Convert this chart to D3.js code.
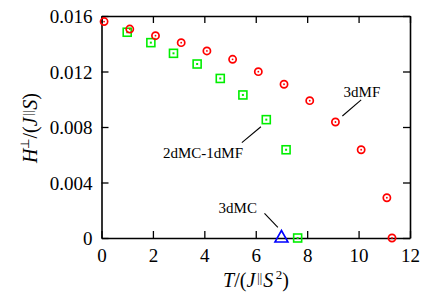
<!DOCTYPE html>
<html>
<head>
<meta charset="utf-8">
<script src="https://cdn.jsdelivr.net/npm/d3@7"></script>
<style>
  body { margin: 0; background: #fff; }
  svg text, svg tspan { font-family: "Liberation Serif", "Times New Roman", serif !important; }
</style>
</head>
<body>
<div id="chart"></div>
<script>
// 3dMF (red circles)
const mfT = [0.1, 1.1, 2.1, 3.1, 4.1, 5.1, 6.1, 7.1, 8.1, 9.1, 10.1, 11.1, 11.3];
const mfH = [0.0156, 0.01506, 0.01458, 0.01408, 0.01348, 0.01288, 0.01199, 0.01108, 0.0099, 0.00836, 0.00636, 0.0029, 0];

// 2dMC-1dMF (green squares)
const mcT = [1.0, 1.92, 2.8, 3.72, 4.62, 5.5, 6.41, 7.18, 7.63];
const mcH = [0.01483, 0.01408, 0.01331, 0.01254, 0.0115, 0.01031, 0.00853, 0.00636, 0];

// 3dMC (blue triangle)
const dmcT = [7.0];
const dmcH = [0];

const xTicks = [0, 2, 4, 6, 8, 10, 12];
const yTicks = [0, 0.004, 0.008, 0.012, 0.016];

const width = 436, height = 307;
const margin = { top: 16, right: 26, bottom: 69, left: 101.5 };
const serif = "Liberation Serif";

const svg = d3.select("#chart").append("svg")
  .attr("width", width)
  .attr("height", height)
  .attr("font-family", serif);

const x = d3.scaleLinear().domain([0, 12]).range([margin.left, width - margin.right]);
const y = d3.scaleLinear().domain([0, 0.016]).range([height - margin.bottom, margin.top]);

const fmtY = d => d === 0 ? "0" : d.toFixed(3);

// axes, ticks inward on all four sides
const axB = svg.append("g")
  .attr("transform", `translate(0,${y(0)})`)
  .call(d3.axisBottom(x).tickValues(xTicks).tickSizeInner(-7).tickSizeOuter(0).tickPadding(6).tickFormat(d3.format("d")));
const axL = svg.append("g")
  .attr("transform", `translate(${x(0)},0)`)
  .call(d3.axisLeft(y).tickValues(yTicks).tickSizeInner(-7).tickSizeOuter(0).tickPadding(9).tickFormat(fmtY));
const axT = svg.append("g")
  .attr("transform", `translate(0,${y(0.016)})`)
  .call(d3.axisTop(x).tickValues(xTicks).tickSizeInner(-7).tickSizeOuter(0).tickFormat(""));
const axR = svg.append("g")
  .attr("transform", `translate(${x(12)},0)`)
  .call(d3.axisRight(y).tickValues(yTicks).tickSizeInner(-7).tickSizeOuter(0).tickFormat(""));

[axB, axL, axT, axR].forEach(a => {
  a.attr("font-family", serif).attr("font-size", 19);
  a.selectAll("path").attr("stroke", "#000").attr("stroke-width", 1.6);
  a.selectAll("line").attr("stroke", "#000").attr("stroke-width", 1.3);
  a.selectAll("text")
    .attr("font-family", serif)
    .attr("font-size", 19)
    .attr("fill", "#000");
});
axB.selectAll("text").attr("dy", "0.95em");
axL.selectAll("text").attr("dy", "0.36em");

// green squares
const mc = mcT.map((t, i) => ({ t: t, h: mcH[i] }));
const sq = svg.append("g").selectAll("g").data(mc).enter().append("g")
  .attr("transform", d => `translate(${x(d.t)},${y(d.h)})`);
sq.append("rect")
  .attr("x", -4).attr("y", -4).attr("width", 8).attr("height", 8)
  .attr("fill", "none").attr("stroke", "#00ee00").attr("stroke-width", 1.6);
sq.append("rect")
  .attr("x", -1).attr("y", -1).attr("width", 2).attr("height", 2)
  .attr("fill", "#00ee00");

// red circles
const mf = mfT.map((t, i) => ({ t: t, h: mfH[i] }));
const ci = svg.append("g").selectAll("g").data(mf).enter().append("g")
  .attr("transform", d => `translate(${x(d.t)},${y(d.h)})`);
ci.append("circle")
  .attr("r", 3.6)
  .attr("fill", "none").attr("stroke", "#ff0000").attr("stroke-width", 1.7);
ci.append("circle")
  .attr("r", 0.9)
  .attr("fill", "#ff0000");

// blue triangle
const dmc = dmcT.map((t, i) => ({ t: t, h: dmcH[i] }));
svg.append("g").selectAll("path").data(dmc).enter().append("path")
  .attr("transform", d => `translate(${x(d.t)},${y(d.h)})`)
  .attr("d", "M0,-7.5 L6.5,4 L-6.5,4 Z")
  .attr("fill", "none").attr("stroke", "#0000ff").attr("stroke-width", 1.6);

// annotations (data coordinates)
const notes = [
  { label: "3dMF", tx: 10.13, ty: 0.01016, x1: 9.37, y1: 0.00879, x2: 10.1, y2: 0.00995 },
  { label: "2dMC-1dMF", tx: 3.95, ty: 0.00577, x1: 5.46, y1: 0.00687, x2: 6.2, y2: 0.00802 },
  { label: "3dMC", tx: 5.3, ty: 0.0018, x1: 6.34, y1: 0.00178, x2: 6.86, y2: 0.00077 }
];
notes.forEach(n => {
  svg.append("line")
    .attr("x1", x(n.x1)).attr("y1", y(n.y1))
    .attr("x2", x(n.x2)).attr("y2", y(n.y2))
    .attr("stroke", "#000").attr("stroke-width", 1.1);
  svg.append("text")
    .attr("x", x(n.tx)).attr("y", y(n.ty))
    .attr("text-anchor", "middle")
    .style("font-size", "15px")
    .text(n.label);
});

// x axis title
const xt = svg.append("text")
  .attr("x", 256).attr("y", 287)
  .attr("text-anchor", "middle")
  .style("font-size", "20px");
xt.append("tspan").attr("font-style", "italic").text("T");
xt.append("tspan").text("/(");
xt.append("tspan").attr("font-style", "italic").text("J");
xt.append("tspan").attr("dy", -5).attr("dx", 2).style("font-size", "12px").text("||");
xt.append("tspan").attr("dy", 5).attr("dx", 1).attr("font-style", "italic").text("S");
xt.append("tspan").attr("dy", -8).style("font-size", "13px").text("\u20092");
xt.append("tspan").attr("dy", 8).text(")");

// y axis title
const yt = svg.append("text")
  .attr("transform", "translate(37,128) rotate(-90)")
  .attr("text-anchor", "middle")
  .style("font-size", "20px");
yt.append("tspan").attr("font-style", "italic").text("H");
yt.append("tspan").attr("dy", -8).style("font-size", "12px").text("\u22a5");
yt.append("tspan").attr("dy", 8).text("/(");
yt.append("tspan").attr("font-style", "italic").text("J");
yt.append("tspan").attr("dy", -5).attr("dx", 2).style("font-size", "12px").text("||");
yt.append("tspan").attr("dy", 5).attr("dx", 1).attr("font-style", "italic").text("S");
yt.append("tspan").text(")");
</script>
</body>
</html>
